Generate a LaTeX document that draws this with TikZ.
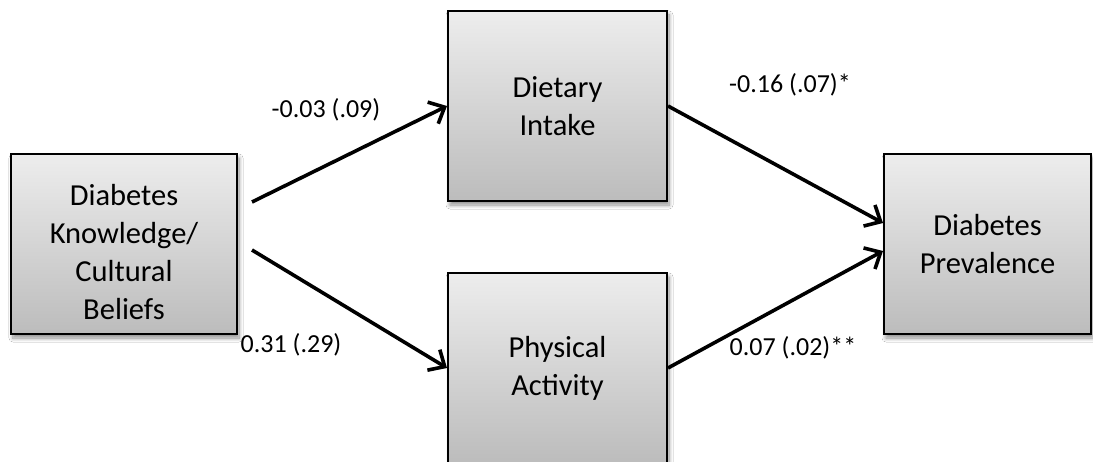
\documentclass[tikz,border=0pt]{standalone}
\usepackage{fontspec}
\setmainfont{Carlito}
\usetikzlibrary{arrows.meta,shadows,shadows.blur}
\begin{document}
\begin{tikzpicture}[x=1pt,y=-1pt,
  box/.style={draw=black,line width=2pt,
    top color={rgb,255:red,237;green,237;blue,237},
    bottom color={rgb,255:red,188;green,188;blue,188},
    align=center,inner sep=0pt,
    font=\fontsize{30.5}{38}\selectfont,
    blur shadow={shadow xshift=2pt,shadow yshift=-4pt,shadow blur steps=8,shadow blur radius=4pt,shadow opacity=45}},
  conn/.style={line width=3.6pt,-{Straight Barb[length=13pt,width=24pt,line width=3.6pt]}},
  lbl/.style={font=\fontsize{26}{30}\selectfont,inner sep=0pt}]
\useasboundingbox (0,0) rectangle (1093,462);
\fill[white] (0,0) rectangle (1093,462);
\node[box,minimum width=226pt,minimum height=180pt] (K) at (124,244) {\mbox{}\\[0pt]Diabetes\\Knowledge/\\Cultural\\Beliefs};
\node[box,minimum width=219pt,minimum height=190pt] (D) at (557.5,106) {Dietary\\Intake};
\node[box,minimum width=219pt,minimum height=190pt] (P) at (557.5,368) {Physical\\Activity};
\node[box,minimum width=207pt,minimum height=180pt] (V) at (987.5,244) {Diabetes\\Prevalence};
\coordinate (s1) at (252,202);
\coordinate (s2) at (252,250);
\draw[conn] (s1) -- (D.west);
\draw[conn] (s2) -- (P.west);
\draw[conn] (D.east) -- ([yshift=21pt]V.west);
\draw[conn] (P.east) -- ([yshift=-7pt]V.west);
\node[lbl] (l1) at (326,110) {-0.03 (.09)};
\node[lbl] (l2) at (790,85) {-0.16 (.07)*};
\node[lbl] (l3) at (291,345) {0.31 (.29)};
\node[lbl] (l4) at (793,348) {0.07 (.02)**};
\end{tikzpicture}
\end{document}
